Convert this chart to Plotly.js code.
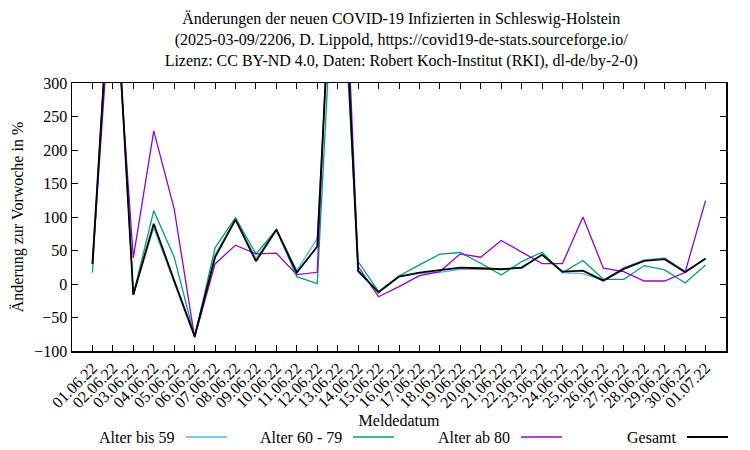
<!DOCTYPE html>
<html>
<head>
<meta charset="utf-8">
<script src="https://cdn.plot.ly/plotly-3.0.1.min.js"></script>
<style>html,body{margin:0;padding:0;background:#fff;}#chart{width:750px;height:450px;}</style>
</head>
<body>
<div id="chart"></div>
<script>
const dates = ['01.06.22','02.06.22','03.06.22','04.06.22','05.06.22','06.06.22','07.06.22','08.06.22','09.06.22','10.06.22','11.06.22','12.06.22','13.06.22','14.06.22','15.06.22','16.06.22','17.06.22','18.06.22','19.06.22','20.06.22','21.06.22','22.06.22','23.06.22','24.06.22','25.06.22','26.06.22','27.06.22','28.06.22','29.06.22','30.06.22','01.07.22'];
const alterBis59 = [30,525,-16,84,2,-79,44,97,38,82,20,68,640,18,-12,11,16,17.5,22,22,22,23.5,44.5,17,15.5,5,24.5,36,39,19.5,37];
const alter60bis79 = [17,540,-16,109.5,40,-79,54,99,45,81,11,0.5,590,33.5,-11,12,28.5,44.5,47,31,13.5,33.5,47.5,17,35,7,7,27.5,21,1.5,28.5];
const alterAb80 = [30,475,39,228.5,112,-80,30,58,45,46,14,17.5,750,26,-19,-4,12.5,18.5,45,40,65,47.5,30.5,30.5,100,23.5,18.5,4.5,4.5,17.5,124.5];
const gesamt = [30,525,-16,90,5,-78,40,96,34,81,17,56,660,19.5,-12.5,11,17,21,24.5,23.5,22,24.5,43.5,18.5,20,5,22.5,34.5,37,17.5,38];
const seriesNames = ['Alter bis 59','Alter 60 - 79','Alter ab 80','Gesamt'];
const seriesColors = ['#56b4e9','#009e73','#9400d3','#000000'];
const seriesWidths = [1.3,1.3,1.3,1.8];
const seriesData = [alterBis59, alter60bis79, alterAb80, gesamt];
const yTicks = [-100,-50,0,50,100,150,200,250,300];

const FONT = 'Liberation Serif, Times New Roman, serif';
const traces = seriesData.map((d,i)=>({
  type:'scatter', mode:'lines', x:dates, y:d, name:seriesNames[i],
  line:{color:seriesColors[i], width:seriesWidths[i]}, showlegend:false
}));

// manual legend (gnuplot style: text then line sample)
const legTextEnd = [177,344,512,678];
const legY = 437;
const L=72, R=726, T=83, B=351;
const px2x = p => (p-L)/(R-L);
const py2y = p => (B-p)/(B-T);
const annotations = seriesNames.map((n,i)=>({
  xref:'paper', yref:'paper', x:px2x(legTextEnd[i]), y:py2y(legY), xanchor:'right', yanchor:'middle',
  text:n, showarrow:false, font:{family:FONT,size:16,color:'#000'}
}));
const shapes = seriesNames.map((n,i)=>({
  type:'line', xref:'paper', yref:'paper', x0:px2x(legTextEnd[i]+9), x1:px2x(legTextEnd[i]+50),
  y0:py2y(legY), y1:py2y(legY), line:{color:seriesColors[i], width:seriesWidths[i]+0.2}
}));

const layout = {
  width:750, height:450,
  margin:{l:L, r:750-R, t:T, b:450-B, pad:0},
  paper_bgcolor:'#fff', plot_bgcolor:'#fff',
  font:{family:FONT, size:16, color:'#000'},
  title:{text:'Änderungen der neuen COVID-19 Infizierten in Schleswig-Holstein<br>(2025-03-09/2206, D. Lippold, https://covid19-de-stats.sourceforge.io/<br>Lizenz: CC BY-ND 4.0, Daten: Robert Koch-Institut (RKI), dl-de/by-2-0)',
    x:0.535, xanchor:'center', yref:'container', y:1-24/450, yanchor:'middle', font:{family:FONT,size:16,color:'#000'}},
  xaxis:{type:'category', range:[-1,31], tickangle:-45, ticks:'inside', ticklen:6, tickcolor:'#000',
    showline:true, linecolor:'#000', linewidth:1.5, mirror:'ticks', showgrid:false, zeroline:false,
    tickfont:{family:FONT,size:16}, automargin:false,
    title:{text:'Meldedatum', font:{family:FONT,size:16}, standoff:4}},
  yaxis:{range:[-100,300], tickvals:yTicks, ticks:'inside', ticklen:6, tickcolor:'#000',
    showline:true, linecolor:'#000', linewidth:1.5, mirror:'ticks', showgrid:false, zeroline:false,
    tickfont:{family:FONT,size:16}, automargin:false,
    title:{text:'Änderung zur Vorwoche in %', font:{family:FONT,size:16}, standoff:6}},
  annotations:annotations, shapes:shapes
};
Plotly.newPlot('chart', traces, layout, {staticPlot:true, displayModeBar:false});
</script>
</body>
</html>
